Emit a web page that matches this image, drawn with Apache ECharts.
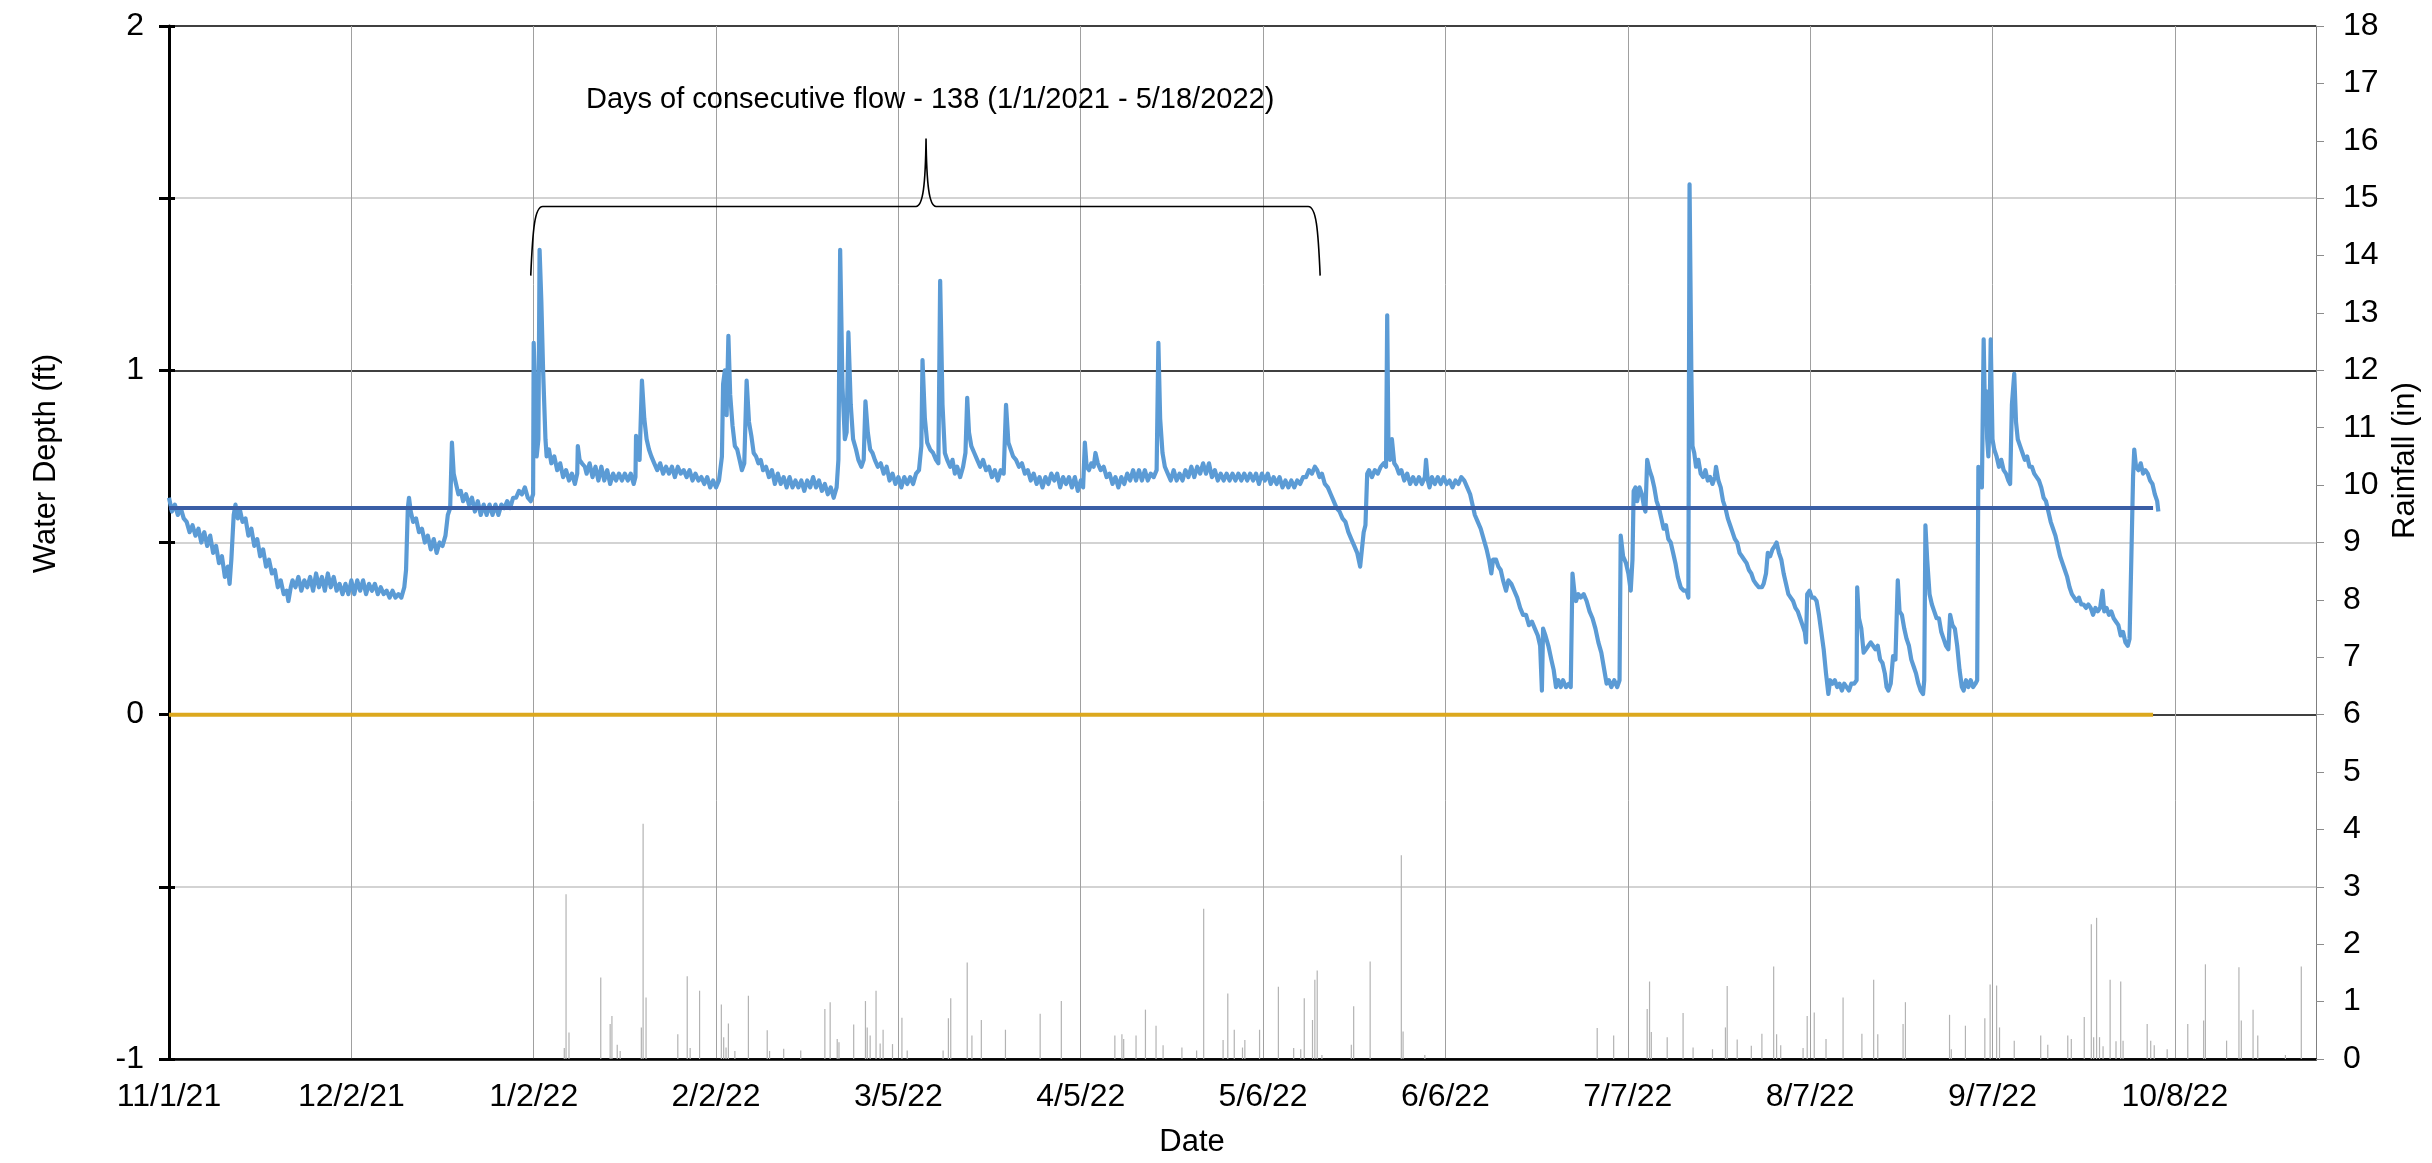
<!DOCTYPE html>
<html>
<head>
<meta charset="utf-8">
<script src="https://cdn.jsdelivr.net/npm/echarts@6/dist/echarts.min.js"></script>
<style>
html,body{margin:0;padding:0;background:#ffffff;}
#chart{width:2432px;height:1163px;}
</style>
</head>
<body>
<div id="chart"></div>
<script>
// ---------- DATA ----------
// x values are days since 11/1/21
const dateTickLabels = ['11/1/21','12/2/21','1/2/22','2/2/22','3/5/22','4/5/22','5/6/22','6/6/22','7/7/22','8/7/22','9/7/22','10/8/22'];
const dayRange = [0, 365];
const dayStep = 31;
const depthRange = [-1, 2];
const rainRange = [0, 18];

// water depth (ft) : [day, depth]
const depth = [
[0,0.63],[0.5,0.59],[1,0.61],[1.5,0.58],[2,0.6],[2.5,0.57],[3,0.56],[3.5,0.53],[4,0.55],[4.5,0.52],[5,0.54],[5.5,0.5],[6,0.53],[6.5,0.49],[7,0.52],[7.5,0.47],[8,0.49],[8.5,0.44],[9,0.46],[9.5,0.4],[10,0.43],[10.3,0.38],[10.6,0.45],[11,0.58],[11.3,0.61],[11.7,0.57],[12,0.6],
[12.5,0.56],[13,0.57],[13.5,0.52],[14,0.54],[14.5,0.49],[15,0.51],[15.5,0.46],[16,0.48],[16.5,0.43],[17,0.45],[17.5,0.41],[18,0.42],[18.5,0.37],[19,0.39],[19.5,0.35],[20,0.36],[20.3,0.33],[20.7,0.37],
[21,0.39],[21.5,0.37],[22,0.4],[22.5,0.36],[23,0.39],[23.5,0.37],[24,0.4],[24.5,0.36],[25,0.41],[25.5,0.37],[26,0.4],[26.5,0.36],[27,0.41],[27.5,0.37],[28,0.4],[28.5,0.36],[29,0.38],[29.5,0.35],[30,0.38],[30.5,0.35],[31,0.39],[31.5,0.35],[32,0.39],[32.5,0.36],[33,0.39],[33.5,0.35],[34,0.38],[34.5,0.36],[35,0.38],[35.5,0.35],[36,0.37],[36.5,0.35],[37,0.36],[37.5,0.34],[38,0.36],[38.5,0.34],[39,0.35],[39.5,0.34],[40,0.37],[40.3,0.42],
[40.6,0.6],[40.8,0.63],[41.1,0.59],[41.5,0.56],[42,0.57],[42.5,0.53],[43,0.54],[43.5,0.5],[44,0.52],[44.5,0.48],[45,0.51],[45.5,0.47],[46,0.5],[46.5,0.49],[47,0.52],[47.4,0.58],[47.8,0.6],[48.1,0.79],[48.4,0.7],[48.8,0.67],[49.2,0.64],[49.6,0.65],[50,0.62],[50.5,0.64],[51,0.61],[51.5,0.63],[52,0.59],[52.5,0.62],[53,0.58],[53.5,0.61],[54,0.58],[54.5,0.61],[55,0.58],[55.5,0.61],[56,0.58],[56.5,0.61],[57,0.6],[57.5,0.62],[58,0.6],[58.5,0.63],[59,0.63],[59.5,0.65],[60,0.64],[60.5,0.66],[61,0.63],[61.5,0.62],
[61.9,0.64],[62,1.08],[62.3,0.9],[62.5,0.75],[62.8,0.8],[63,1.35],[63.3,1.2],[63.6,1.0],[64,0.8],[64.2,0.75],[64.6,0.77],[65,0.73],[65.5,0.75],[66,0.71],[66.5,0.73],[67,0.69],[67.5,0.71],[68,0.68],[68.5,0.7],[69,0.67],[69.4,0.7],[69.5,0.78],[69.8,0.74],[70.2,0.73],[70.7,0.72],[71,0.7],[71.5,0.73],[72,0.69],[72.5,0.72],[73,0.68],[73.5,0.72],[74,0.68],[74.5,0.71],[75,0.67],[75.5,0.7],[76,0.68],[76.5,0.7],[77,0.68],[77.5,0.7],[78,0.68],[78.5,0.7],[79,0.67],[79.3,0.69],[79.4,0.81],[79.7,0.76],[80,0.74],[80.4,0.97],[80.8,0.86],[81.2,0.8],[81.6,0.77],[82,0.75],[82.5,0.73],[83,0.71],[83.5,0.73],[84,0.7],[84.5,0.72],[85,0.7],[85.5,0.72],[86,0.69],[86.5,0.72],[87,0.7],[87.5,0.71],[88,0.69],[88.5,0.71],[89,0.68],[89.5,0.7],[90,0.68],[90.5,0.69],[91,0.67],[91.5,0.69],[92,0.66],[92.5,0.68],[93,0.66],[93.5,0.68],
[94,0.75],[94.2,0.96],[94.5,1.0],[94.8,0.87],[95.1,1.1],[95.4,0.93],[95.8,0.84],[96.2,0.78],[96.6,0.77],[97,0.74],[97.4,0.71],[97.8,0.73],[98.2,0.97],[98.6,0.85],[99,0.81],[99.4,0.76],[99.8,0.75],[100.2,0.73],[100.6,0.74],[101,0.71],[101.5,0.72],[102,0.69],[102.5,0.71],[103,0.67],[103.5,0.7],[104,0.67],[104.5,0.69],[105,0.66],[105.5,0.69],[106,0.66],[106.5,0.68],[107,0.66],[107.5,0.68],[108,0.65],[108.5,0.68],[109,0.66],[109.5,0.69],[110,0.66],[110.5,0.68],[111,0.65],[111.5,0.67],[112,0.64],[112.5,0.66],[113,0.63],[113.5,0.66],[113.8,0.74],
[114.1,1.35],[114.5,0.95],[114.9,0.8],[115.2,0.82],[115.5,1.11],[115.9,0.9],[116.3,0.8],[116.8,0.77],[117.2,0.74],[117.7,0.72],[118.1,0.74],[118.4,0.91],[118.8,0.82],[119.2,0.77],[119.6,0.76],[120,0.74],[120.5,0.72],[121,0.73],[121.5,0.7],[122,0.72],[122.5,0.68],[123,0.7],[123.5,0.67],[124,0.69],[124.5,0.66],[125,0.69],[125.5,0.67],[126,0.69],[126.5,0.67],[127,0.7],[127.5,0.71],
[127.9,0.78],[128.1,1.03],[128.5,0.86],[128.9,0.79],[129.4,0.77],[129.9,0.76],[130.4,0.74],[130.8,0.73],[131.1,1.26],[131.5,0.9],[131.9,0.76],[132.3,0.74],[132.8,0.72],[133.2,0.74],[133.6,0.7],[134,0.72],[134.5,0.69],[135,0.72],[135.4,0.76],[135.7,0.92],[136,0.82],[136.4,0.78],[136.9,0.76],[137.4,0.74],[137.9,0.72],[138.4,0.74],[138.9,0.71],[139.4,0.72],[139.9,0.69],[140.4,0.71],[140.9,0.68],[141.4,0.71],[141.9,0.7],
[142.3,0.9],[142.7,0.79],[143.1,0.77],[143.5,0.75],[144,0.74],[144.5,0.72],[145,0.73],[145.5,0.7],[146,0.71],[146.5,0.68],[147,0.7],[147.5,0.67],[148,0.69],[148.5,0.66],[149,0.69],[149.5,0.67],[150,0.7],[150.5,0.68],[151,0.7],[151.5,0.66],[152,0.69],[152.5,0.67],[153,0.69],[153.5,0.66],[154,0.69],[154.5,0.65],[155,0.68],[155.4,0.66],[155.7,0.79],[156,0.72],[156.4,0.71],[156.8,0.73],[157.2,0.72],[157.5,0.76],[157.9,0.73],[158.4,0.71],[158.9,0.72],[159.4,0.69],[159.9,0.7],[160.4,0.67],[160.9,0.69],[161.4,0.66],[161.9,0.69],[162.4,0.67],[162.9,0.7],[163.4,0.68],[163.9,0.71],[164.4,0.68],[164.9,0.71],[165.4,0.68],[165.9,0.71],[166.4,0.68],[166.9,0.7],[167.4,0.69],[167.9,0.71],
[168.2,1.08],[168.5,0.86],[168.9,0.76],[169.3,0.72],[169.8,0.7],[170.3,0.68],[170.8,0.71],[171.3,0.68],[171.8,0.7],[172.3,0.68],[172.8,0.71],[173.3,0.69],[173.8,0.72],[174.3,0.69],[174.8,0.72],[175.3,0.7],[175.8,0.73],[176.3,0.7],[176.8,0.73],[177.3,0.69],[177.8,0.71],[178.3,0.68],[178.8,0.7],[179.3,0.68],[179.8,0.7],[180.3,0.68],[180.8,0.7],[181.3,0.68],[181.8,0.7],[182.3,0.68],[182.8,0.7],[183.3,0.68],[183.8,0.7],[184.3,0.68],[184.8,0.7],[185.3,0.67],[185.8,0.7],[186.3,0.68],[186.8,0.7],[187.3,0.67],[187.8,0.69],[188.3,0.67],[188.8,0.69],[189.3,0.66],[189.8,0.68],[190.3,0.66],[190.8,0.68],[191.3,0.66],[191.8,0.68],[192.3,0.67],[192.8,0.69],[193.3,0.69],[193.8,0.71],[194.3,0.7],[194.8,0.72],[195.2,0.71],[195.6,0.69],[196,0.7],[196.5,0.67],[197,0.66],[197.5,0.64],[198,0.62],[198.5,0.6],[199,0.59],[199.5,0.57],[200,0.56],[200.5,0.53],[201,0.51],[201.5,0.49],[202,0.47],[202.5,0.43],[202.8,0.48],[203.1,0.53],[203.4,0.55],[203.7,0.7],
[204,0.71],[204.5,0.69],[205,0.71],[205.5,0.7],[206,0.72],[206.5,0.73],[206.9,0.72],[207.1,1.16],[207.3,0.8],[207.6,0.74],[207.9,0.8],[208.3,0.73],[208.7,0.72],[209.1,0.7],[209.5,0.71],[210,0.68],[210.5,0.7],[211,0.67],[211.5,0.69],[212,0.67],[212.5,0.69],[213,0.67],[213.5,0.69],[213.7,0.74],[214,0.68],[214.3,0.66],[214.7,0.69],[215.2,0.67],[215.7,0.69],[216.2,0.67],[216.7,0.69],[217.2,0.67],[217.7,0.68],[218.2,0.66],[218.7,0.68],[219.2,0.67],[219.7,0.69],[220.2,0.68],[220.7,0.66],[221.2,0.64],[221.6,0.61],[222,0.58],[222.5,0.56],[223,0.54],[223.5,0.51],[224,0.48],[224.4,0.45],[224.8,0.41],[225.1,0.45],[225.6,0.45],[226,0.43],[226.4,0.42],[226.8,0.39],[227.3,0.36],[227.7,0.39],[228.2,0.38],[228.7,0.36],[229.2,0.34],[229.7,0.31],[230.2,0.29],[230.7,0.29],[231.2,0.26],[231.7,0.27],[232.2,0.25],[232.7,0.23],[233.1,0.2],[233.4,0.07],[233.6,0.25],[234,0.23],[234.5,0.2],[235,0.16],[235.4,0.13],[235.8,0.08],[236.2,0.1],[236.6,0.08],[237,0.1],[237.5,0.08],[238,0.09],[238.3,0.08],
[238.6,0.41],[238.9,0.36],[239.2,0.33],[239.6,0.35],[240,0.34],[240.5,0.35],[241,0.33],[241.5,0.3],[242,0.28],[242.5,0.25],[243,0.21],[243.5,0.18],[244,0.13],[244.4,0.09],[244.8,0.1],[245.2,0.08],[245.7,0.1],[246.2,0.08],[246.6,0.1],[246.8,0.52],[247.2,0.46],[247.7,0.44],[248.1,0.41],[248.5,0.36],[248.8,0.45],[249,0.65],[249.3,0.66],[249.6,0.62],[250,0.66],[250.4,0.64],[250.8,0.6],[251,0.59],[251.3,0.74],[251.7,0.71],[252.1,0.69],[252.5,0.66],[252.9,0.62],[253.3,0.6],[253.7,0.57],[254.1,0.54],[254.5,0.55],[254.9,0.51],[255.3,0.5],[255.7,0.47],[256.1,0.44],[256.5,0.4],[257,0.37],[257.5,0.36],[258,0.36],[258.3,0.34],[258.5,1.54],[258.8,1.0],[259,0.78],[259.3,0.76],[259.6,0.72],[260,0.74],[260.4,0.7],[260.8,0.69],[261.2,0.71],[261.6,0.68],[262,0.69],[262.4,0.67],[262.8,0.69],[263,0.72],[263.4,0.68],[263.8,0.66],[264.2,0.62],[264.6,0.6],[265,0.57],[265.4,0.55],[265.8,0.53],[266.2,0.51],[266.6,0.5],[267,0.47],[267.4,0.46],[267.8,0.45],[268.2,0.44],[268.6,0.42],[269,0.41],[269.4,0.39],[269.8,0.38],[270.3,0.37],[270.8,0.37],[271.1,0.38],[271.5,0.41],[271.8,0.47],[272.2,0.46],[272.6,0.48],[273,0.49],[273.3,0.5],[273.7,0.47],[274.1,0.45],[274.5,0.41],[274.9,0.38],[275.3,0.35],[275.7,0.34],[276.1,0.33],[276.5,0.31],[276.9,0.3],[277.3,0.28],[277.7,0.26],[278.1,0.24],[278.3,0.21],[278.5,0.35],[278.9,0.36],[279.3,0.34],[279.7,0.34],[280.1,0.33],[280.5,0.29],[280.9,0.24],[281.3,0.19],[281.7,0.12],[282.1,0.06],[282.4,0.1],[282.8,0.09],[283.2,0.1],[283.6,0.08],[284,0.09],[284.4,0.07],[284.8,0.09],[285.2,0.08],[285.6,0.07],[286,0.09],[286.5,0.09],[286.9,0.1],[287,0.37],[287.3,0.28],[287.7,0.25],[288.1,0.18],[288.5,0.19],[288.9,0.2],[289.3,0.21],[289.7,0.2],[290.1,0.19],[290.5,0.2],[290.9,0.16],[291.3,0.15],[291.7,0.12],[292,0.08],[292.3,0.07],[292.7,0.09],[293.1,0.17],[293.5,0.16],[293.9,0.39],[294.2,0.3],[294.6,0.29],[295,0.25],[295.4,0.22],[295.8,0.2],[296.2,0.16],[296.6,0.14],[297,0.12],[297.4,0.09],[297.8,0.07],[298.2,0.06],[298.4,0.1],[298.6,0.55],[298.9,0.45],[299.3,0.35],[299.7,0.32],[300.1,0.3],[300.5,0.28],[300.9,0.28],[301.3,0.24],[301.7,0.22],[302.1,0.2],[302.5,0.19],[302.8,0.29],[303.2,0.26],[303.6,0.25],[304,0.2],[304.4,0.13],[304.8,0.08],[305.1,0.07],[305.5,0.1],[305.9,0.08],[306.3,0.1],[306.7,0.08],[307.1,0.09],[307.4,0.1],[307.6,0.72],[307.9,0.67],[308.2,0.66],[308.5,1.09],[308.7,0.9],[308.9,0.94],[309.1,0.8],[309.3,0.75],[309.5,0.85],[309.7,1.09],[310,0.8],[310.3,0.77],[310.7,0.75],[311.1,0.72],[311.5,0.74],[311.9,0.71],[312.3,0.7],[312.7,0.68],[313,0.67],[313.3,0.9],[313.7,0.99],[314,0.85],[314.3,0.8],[314.7,0.78],[315.1,0.76],[315.5,0.74],[315.9,0.75],[316.3,0.72],[316.7,0.72],[317.1,0.7],[317.5,0.69],[317.9,0.68],[318.3,0.66],[318.7,0.63],[319.1,0.62],[319.5,0.59],[319.9,0.56],[320.3,0.54],[320.7,0.52],[321.1,0.49],[321.5,0.46],[321.9,0.44],[322.3,0.42],[322.7,0.4],[323.1,0.37],[323.5,0.35],[323.9,0.34],[324.3,0.33],[324.7,0.34],[325.1,0.32],[325.5,0.32],[325.9,0.31],[326.3,0.32],[326.7,0.31],[327.1,0.29],[327.5,0.31],[327.9,0.3],[328.3,0.31],[328.7,0.36],[329,0.3],[329.4,0.31],[329.8,0.29],[330.2,0.3],[330.6,0.28],[331,0.27],[331.4,0.26],[331.8,0.23],[332.2,0.24],[332.6,0.21],[333,0.2],[333.3,0.22],[333.6,0.45],[333.9,0.69],[334.1,0.77],[334.4,0.72],[334.8,0.71],[335.2,0.73],[335.6,0.7],[336,0.71],[336.4,0.7],[336.8,0.68],[337.2,0.67],[337.6,0.64],[338,0.62],[338.2,0.59]
];

// rainfall (in) : [day, inches]
const rain = [
[67.2,0.19],[67.5,2.87],[68.0,0.46],[73.4,1.42],[75.0,0.61],[75.3,0.75],[76.2,0.25],[76.7,0.14],[80.3,0.55],[80.6,4.1],[81.1,1.07],[86.5,0.43],[88.1,1.44],[88.6,0.19],[90.2,1.19],[93.9,0.95],[94.3,0.38],[94.7,0.2],[95.1,0.62],[96.2,0.14],[98.5,1.10],[101.7,0.5],[102.1,0.14],[104.5,0.18],[107.4,0.15],[111.5,0.87],[112.4,0.99],[113.6,0.35],[113.9,0.29],[116.4,0.6],[118.4,1.01],[118.7,0.55],[119.2,0.41],[120.2,1.19],[120.9,0.27],[121.4,0.51],[123.0,0.26],[124.6,0.72],[125.5,0.15],[131.6,0.15],[132.5,0.71],[132.9,1.06],[135.7,1.68],[136.5,0.41],[138.1,0.68],[142.2,0.51],[148.1,0.79],[151.7,1.01],[160.8,0.41],[162.0,0.43],[162.3,0.35],[164.4,0.41],[166.0,0.86],[167.8,0.58],[169.0,0.24],[172.2,0.2],[174.7,0.15],[175.9,2.62],[179.2,0.33],[180.0,1.14],[181.1,0.51],[182.5,0.2],[182.9,0.33],[185.4,0.51],[188.6,1.26],[191.2,0.19],[192.4,0.17],[193.0,1.06],[194.4,0.68],[194.8,1.38],[195.2,1.54],[196.0,0.07],[201.0,0.25],[201.4,0.92],[204.2,1.70],[209.5,3.55],[209.8,0.48],[213.5,0.07],[242.8,0.54],[245.6,0.41],[251.3,0.87],[251.7,1.35],[252.0,0.47],[254.7,0.38],[257.4,0.8],[259.1,0.2],[262.4,0.17],[264.6,0.55],[264.9,1.27],[266.6,0.34],[269.0,0.23],[270.8,0.44],[272.8,1.61],[273.3,0.43],[274.0,0.24],[277.8,0.19],[278.5,0.75],[279.7,0.81],[281.7,0.35],[284.6,1.07],[287.8,0.44],[289.8,1.38],[290.5,0.43],[294.8,0.61],[295.2,0.99],[302.7,0.77],[303.0,0.17],[305.4,0.58],[308.7,0.71],[309.6,1.3],[310.7,1.28],[311.2,0.55],[313.7,0.32],[318.2,0.41],[319.4,0.25],[322.8,0.41],[323.4,0.35],[325.6,0.73],[326.8,2.35],[327.2,0.38],[327.7,2.46],[328.2,0.38],[328.8,0.22],[330.0,1.38],[331.0,0.31],[331.8,1.35],[332.2,0.32],[336.3,0.61],[336.9,0.32],[337.5,0.24],[339.7,0.17],[343.2,0.61],[345.9,0.67],[346.2,1.65],[349.8,0.32],[351.9,1.60],[352.3,0.67],[354.3,0.86],[355.1,0.41],[359.8,0.07],[362.5,1.61]
];

// reference levels (ft) and the day range they span
const flowThreshold = [[0, 0.6], [337.3, 0.6]];
const zeroLevel = [[0, 0], [337.3, 0]];

// annotation: brace from day 61.5 to 195.7, base/bar/tip depth, tip day
const braceSpan = [[61.5, 195.7, 1.275, 1.476, 1.673, 128.7]];
const annotationText = 'Days of consecutive flow - 138 (1/1/2021 - 5/18/2022)';
const annotationAt = [129.4, 1.785];

// ---------- CHART ----------
const FONT = '"Liberation Sans", Arial, sans-serif';
const chart = echarts.init(document.getElementById('chart'), null, {renderer: 'canvas'});

function renderBrace(params, api) {
  const a = api.coord([api.value(0), api.value(2)]);
  const b = api.coord([api.value(1), api.value(2)]);
  const h = api.coord([api.value(5), api.value(3)]);
  const t = api.coord([api.value(5), api.value(4)]);
  const xl = a[0], xr = b[0], yb = a[1], yh = h[1], xm = t[0], yt = t[1];
  const r = 12;
  const d = 'M' + xl + ',' + yb +
    ' C' + (xl + 2) + ',' + (yh + 22) + ' ' + (xl + 4) + ',' + yh + ' ' + (xl + r) + ',' + yh +
    ' L' + (xm - 10) + ',' + yh +
    ' C' + (xm - 3) + ',' + yh + ' ' + (xm - 0.6) + ',' + (yh - 22) + ' ' + xm + ',' + yt +
    ' C' + (xm + 0.6) + ',' + (yh - 22) + ' ' + (xm + 3) + ',' + yh + ' ' + (xm + 10) + ',' + yh +
    ' L' + (xr - r) + ',' + yh +
    ' C' + (xr - 4) + ',' + yh + ' ' + (xr - 2) + ',' + (yh + 22) + ' ' + xr + ',' + yb;
  const tp = api.coord(annotationAt);
  return {
    type: 'group',
    children: [
      {type: 'path', shape: {pathData: d}, style: {fill: 'none', stroke: '#000000', lineWidth: 1.6}},
      {type: 'text', x: tp[0], y: tp[1],
       style: {text: annotationText, fill: '#000000', font: '29px ' + FONT,
               align: 'center', verticalAlign: 'middle', textAlign: 'center', textVerticalAlign: 'middle'}}
    ]
  };
}

const option = {
  animation: false,
  backgroundColor: '#ffffff',
  textStyle: {fontFamily: FONT},
  grid: {left: 169, right: 116, top: 26, bottom: 101, containLabel: false},
  xAxis: {
    type: 'value', min: dayRange[0], max: dayRange[1], interval: dayStep,
    name: 'Date', nameLocation: 'middle', nameGap: 68,
    nameTextStyle: {fontFamily: FONT, fontSize: 31, color: '#000', padding: [0, 101, 0, 0]},
    axisLine: {show: true, onZero: false, lineStyle: {color: '#000', width: 2.5}},
    axisTick: {show: false},
    axisLabel: {margin: 22, fontSize: 32, color: '#000', fontFamily: FONT,
      formatter: function (v) { const i = Math.round(v / dayStep); return (Math.abs(v - i * dayStep) < 0.01 && dateTickLabels[i]) ? dateTickLabels[i] : ''; }},
    splitLine: {show: true, lineStyle: {color: '#A0A0A0', width: 1}}
  },
  yAxis: [
    {
      type: 'value', min: depthRange[0], max: depthRange[1], interval: 0.5, position: 'left',
      name: 'Water Depth (ft)', nameLocation: 'middle', nameGap: 107,
      nameTextStyle: {fontFamily: FONT, fontSize: 31, color: '#000', padding: [0, 0, 0, 158]},
      axisLine: {show: true, onZero: false, lineStyle: {color: '#000', width: 3}},
      axisTick: {show: true, length: 10, lineStyle: {color: '#000', width: 3}},
      axisLabel: {margin: 25, fontSize: 32, color: '#000', fontFamily: FONT,
        formatter: function (v) { return Number.isInteger(v) ? String(v) : ''; }},
      splitLine: {show: true, lineStyle: {color: ['#000000', '#C4C4C4'], width: 1.5}}
    },
    {
      type: 'value', min: rainRange[0], max: rainRange[1], interval: 1, position: 'right',
      name: 'Rainfall (in)', nameLocation: 'middle', nameGap: 68,
      nameTextStyle: {fontFamily: FONT, fontSize: 31, color: '#000', padding: [0, 0, 0, 164]},
      axisLine: {show: true, onZero: false, lineStyle: {color: '#7F7F7F', width: 1}},
      axisTick: {show: true, length: 8, lineStyle: {color: '#8C8C8C', width: 1}},
      axisLabel: {margin: 27, fontSize: 32, color: '#000', fontFamily: FONT},
      splitLine: {show: false}
    },
    {
      type: 'value', min: depthRange[0], max: depthRange[1], interval: 0.5, position: 'left',
      axisLine: {show: false}, axisLabel: {show: false}, splitLine: {show: false},
      axisTick: {show: true, inside: true, length: 6, lineStyle: {color: '#000', width: 3}}
    }
  ],
  series: [
    {
      name: 'Rainfall', type: 'bar', xAxisIndex: 0, yAxisIndex: 1, data: rain,
      barWidth: 1.2, itemStyle: {color: '#B3B3B3'}, silent: true, z: 1
    },
    {
      name: 'Water Depth', type: 'line', xAxisIndex: 0, yAxisIndex: 0, data: depth,
      showSymbol: false, symbol: 'none', sampling: null,
      lineStyle: {color: '#5B9BD5', width: 4.2, join: 'round'}, silent: true, z: 3
    },
    {
      name: 'Flow threshold', type: 'line', xAxisIndex: 0, yAxisIndex: 0, data: flowThreshold,
      showSymbol: false, symbol: 'none', lineStyle: {color: '#3A5FA6', width: 4}, silent: true, z: 4
    },
    {
      name: 'Zero', type: 'line', xAxisIndex: 0, yAxisIndex: 0, data: zeroLevel,
      showSymbol: false, symbol: 'none', lineStyle: {color: '#DCA81E', width: 4}, silent: true, z: 4
    },
    {
      name: 'Annotation', type: 'custom', xAxisIndex: 0, yAxisIndex: 0, data: braceSpan,
      encode: {x: [0, 1, 5], y: [2, 3, 4]}, renderItem: renderBrace, silent: true, z: 5, clip: false
    }
  ]
};
chart.setOption(option);
</script>
</body>
</html>
